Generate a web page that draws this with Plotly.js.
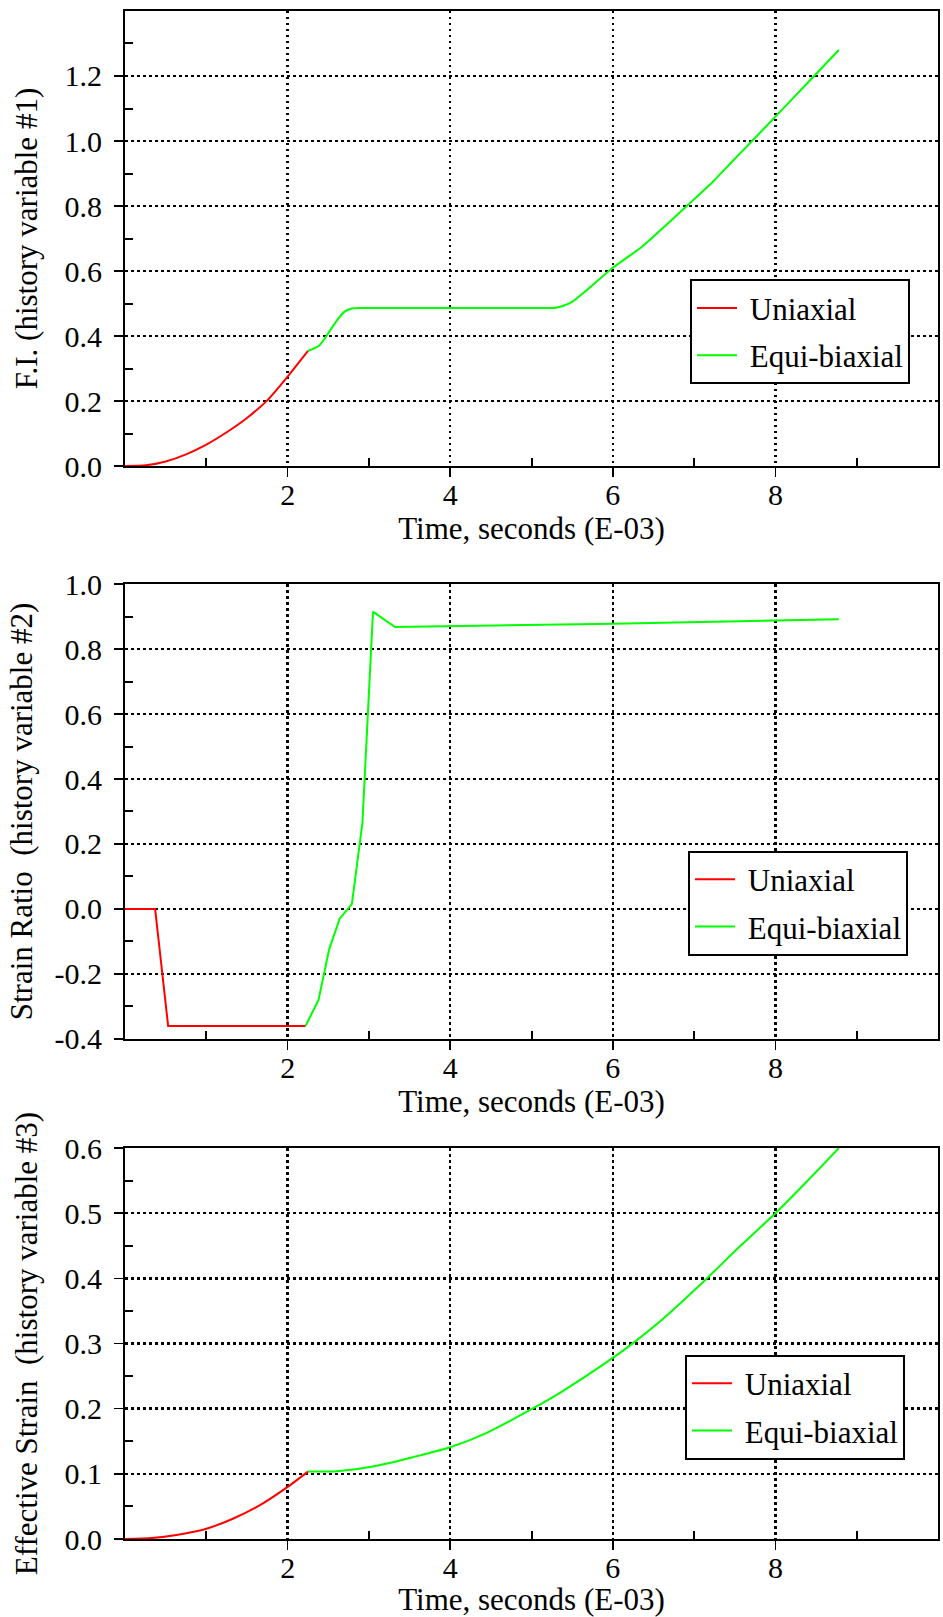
<!DOCTYPE html>
<html><head><meta charset="utf-8">
<script src="https://cdn.plot.ly/plotly-3.0.1.min.js"></script>
<style>html,body{margin:0;padding:0;background:#fff}#chart{width:943px;height:1617px}</style>
</head><body><div id="chart"></div>
<script>
// ---------- data ----------
const seriesNames = ['Uniaxial', 'Equi-biaxial'];

// Panel 1: F.I. (history variable #1)
const fiUniT = [0, 0.25, 0.5, 0.75, 1.0, 1.25, 1.5, 1.75, 2.0, 2.25];
const fiUniV = [0, 0.002, 0.014, 0.036, 0.066, 0.104, 0.148, 0.202, 0.275, 0.354];
const fiBiT = [2.25, 2.39, 2.45, 2.6, 2.7, 2.78, 2.9, 4.0, 5.1, 5.3, 5.4, 5.5, 5.66, 6.0, 6.35, 6.67, 6.91, 7.24, 7.48, 7.74, 8.0, 8.4, 8.78];
const fiBiV = [0.354, 0.371, 0.39, 0.446, 0.475, 0.484, 0.486, 0.486, 0.486, 0.487, 0.494, 0.505, 0.537, 0.61, 0.673, 0.745, 0.8, 0.877, 0.94, 1.007, 1.075, 1.18, 1.28];

// Panel 2: Strain Ratio (history variable #2)
const srUniT = [0, 0.37, 0.53, 2.22];
const srUniV = [0, 0, -0.36, -0.36];
const srBiT = [2.22, 2.38, 2.51, 2.64, 2.79, 2.92, 3.05, 3.32, 6.0, 8.78];
const srBiV = [-0.36, -0.28, -0.125, -0.03, 0.015, 0.265, 0.915, 0.868, 0.878, 0.892];

// Panel 3: Effective Strain (history variable #3)
const esUniT = [0, 0.33, 0.65, 0.98, 1.34, 1.66, 2.0, 2.25];
const esUniV = [0, 0.0015, 0.0066, 0.015, 0.032, 0.052, 0.080, 0.1035];
const esBiT = [2.25, 2.6, 2.93, 3.22, 3.55, 4.0, 4.45, 5.01, 5.37, 6.0, 6.22, 6.59, 7.14, 7.57, 8.0, 8.39, 8.78];
const esBiV = [0.1035, 0.104, 0.109, 0.116, 0.126, 0.141, 0.163, 0.2, 0.226, 0.278, 0.298, 0.335, 0.398, 0.45, 0.5, 0.549, 0.6];

// ticks
const xTickVals = [2, 4, 6, 8];
const xTickText = ['2', '4', '6', '8'];
const xMinorVals = [1, 3, 5, 7, 9];
const fiTickVals = [0, 0.2, 0.4, 0.6, 0.8, 1.0, 1.2];
const fiTickText = ['0.0', '0.2', '0.4', '0.6', '0.8', '1.0', '1.2'];
const fiMinorVals = [0.1, 0.3, 0.5, 0.7, 0.9, 1.1, 1.3];
const srTickVals = [-0.4, -0.2, 0, 0.2, 0.4, 0.6, 0.8, 1.0];
const srTickText = ['-0.4', '-0.2', '0.0', '0.2', '0.4', '0.6', '0.8', '1.0'];
const srMinorVals = [-0.3, -0.1, 0.1, 0.3, 0.5, 0.7, 0.9];
const esTickVals = [0, 0.1, 0.2, 0.3, 0.4, 0.5, 0.6];
const esTickText = ['0.0', '0.1', '0.2', '0.3', '0.4', '0.5', '0.6'];
const esMinorVals = [0.05, 0.15, 0.25, 0.35, 0.45, 0.55];

const xTitle = 'Time, seconds (E-03)';
const yTitles = ['F.I. (history variable #1)', 'Strain Ratio\u00a0 (history variable #2)', 'Effective Strain\u00a0 (history variable #3)'];

// ---------- styling ----------
const FONT = 'Liberation Serif, Times New Roman, serif';
const RED = '#ff0000', GREEN = '#00ff00';

function mkTrace(x, y, name, color, xa, ya, leg, grp, smooth) {
  return {x: x, y: y, name: '\u00a0' + name, type: 'scatter', mode: 'lines',
    line: smooth ? {color: color, width: 2, shape: 'spline', smoothing: 0.6} : {color: color, width: 2},
    xaxis: xa, yaxis: ya, legend: leg, legendgroup: grp};
}
const data = [
  mkTrace(fiUniT, fiUniV, seriesNames[0], RED, 'x', 'y', 'legend', 'a1', true),
  mkTrace(fiBiT, fiBiV, seriesNames[1], GREEN, 'x', 'y', 'legend', 'b1', true),
  mkTrace(srUniT, srUniV, seriesNames[0], RED, 'x2', 'y2', 'legend2', 'a2', false),
  mkTrace(srBiT, srBiV, seriesNames[1], GREEN, 'x2', 'y2', 'legend2', 'b2', false),
  mkTrace(esUniT, esUniV, seriesNames[0], RED, 'x3', 'y3', 'legend3', 'a3', true),
  mkTrace(esBiT, esBiV, seriesNames[1], GREEN, 'x3', 'y3', 'legend3', 'b3', true)
];

function xAxis(anchor) {
  return {
    domain: [0.1326, 0.9947], range: [0, 10], anchor: anchor,
    tickmode: 'array', tickvals: xTickVals, ticktext: xTickText,
    ticks: 'outside', ticklen: 9, tickwidth: 1.5, tickcolor: '#000',
    minor: {tickmode: 'array', tickvals: xMinorVals, ticks: 'inside', ticklen: 8, tickwidth: 2, tickcolor: '#000', showgrid: false},
    showgrid: true, gridcolor: '#000', gridwidth: 2.5, griddash: '2.5px,3.5px',
    showline: true, linecolor: '#000', linewidth: 2, mirror: true, zeroline: false,
    tickfont: {family: FONT, size: 30, color: '#000'}, ticklabelstandoff: -8,
    title: {text: xTitle, font: {family: FONT, size: 31, color: '#000'}, standoff: 3}
  };
}
function yAxis(anchor, dom, rng, tv, tt, mv, title, so) {
  return {
    domain: dom, range: rng, anchor: anchor,
    tickmode: 'array', tickvals: tv, ticktext: tt,
    ticks: 'outside', ticklen: 9, tickwidth: 1.5, tickcolor: '#000',
    minor: {tickmode: 'array', tickvals: mv, ticks: 'inside', ticklen: 8, tickwidth: 2, tickcolor: '#000', showgrid: false},
    showgrid: true, gridcolor: '#000', gridwidth: 2.5, griddash: '2.5px,3.5px',
    showline: true, linecolor: '#000', linewidth: 2, mirror: true, zeroline: false,
    tickfont: {family: FONT, size: 30, color: '#000'}, ticklabelstandoff: 6,
    title: {text: title, font: {family: FONT, size: 31, color: '#000'}, standoff: so}
  };
}
function legendBox(x, y) {
  return {x: x, y: y, xanchor: 'left', yanchor: 'top', bgcolor: '#fff',
    bordercolor: '#000', borderwidth: 2, tracegroupgap: 4, traceorder: 'grouped',
    font: {family: FONT, size: 31, color: '#000'}, itemwidth: 40};
}

const layout = {
  width: 943, height: 1617,
  margin: {l: 0, r: 0, t: 0, b: 0},
  paper_bgcolor: '#fff', plot_bgcolor: '#fff',
  font: {family: FONT, color: '#000'},
  showlegend: true,
  xaxis: xAxis('y'), xaxis2: xAxis('y2'), xaxis3: xAxis('y3'),
  yaxis: yAxis('x', [0.7118, 0.9932], [0, 1.4], fiTickVals, fiTickText, fiMinorVals, yTitles[0], 18),
  yaxis2: yAxis('x2', [0.3575, 0.6388], [-0.4, 1.0], srTickVals, srTickText, srMinorVals, yTitles[1], 13),
  yaxis3: yAxis('x3', [0.0482, 0.2900], [0, 0.6], esTickVals, esTickText, esMinorVals, yTitles[2], 18),
  legend: legendBox(0.7317, 0.8272),
  legend2: legendBox(0.7296, 0.4740),
  legend3: legendBox(0.7264, 0.1623)
};

Plotly.newPlot('chart', data, layout, {displayModeBar: false, staticPlot: true});
</script>
</body></html>
